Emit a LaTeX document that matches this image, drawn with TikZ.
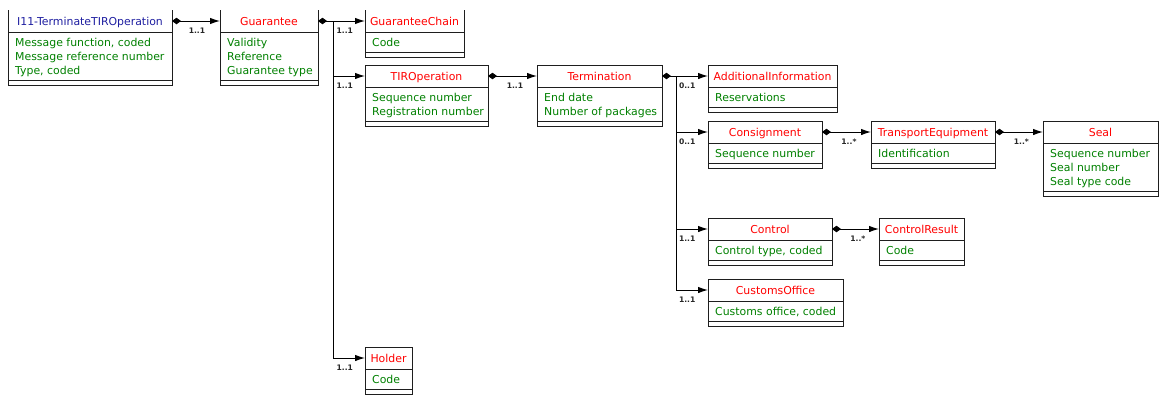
\documentclass[tikz,border=0pt]{standalone}
\usepackage{fontspec}
\setmainfont{DejaVu Sans}
\usetikzlibrary{arrows.meta,calc}
\definecolor{titlered}{RGB}{255,0,0}
\definecolor{titleblue}{RGB}{30,30,160}
\definecolor{attrgreen}{RGB}{0,128,0}
\definecolor{framecol}{RGB}{30,30,30}
\tikzset{
  classframe/.style={draw=framecol, line width=1pt},
  titletext/.style={font=\fontsize{10.9}{13}\selectfont, inner sep=0pt, anchor=base},
  attrtext/.style={font=\fontsize{10.9}{13}\selectfont, text=attrgreen, inner sep=0pt, anchor=base west},
  mult/.style={font=\bfseries\fontsize{7.6}{9}\selectfont, text=black!85, inner sep=0pt, below=6.5pt},
  conn/.style={line width=1pt, draw=black},
  assoc/.style={conn, -{Latex[length=10pt,width=6.5pt]}},
  compassoc/.style={conn, {Diamond[length=9pt,width=6.5pt]}-{Latex[length=10pt,width=6.5pt]}},
  compstart/.style={conn, {Diamond[length=9pt,width=6.5pt]}-},
}
% #1 name, #2 left, #3 top, #4 right, #5 number of attributes,
% #6 title, #7 title colour, #8 attribute list, #9 1 = draw top edge
\newcommand{\umlclass}[9]{%
  \pgfmathsetmacro{\csep}{#3+22}%
  \pgfmathsetmacro{\cattr}{\csep+#5*14+6}%
  \pgfmathsetmacro{\cbot}{\cattr+5}%
  \pgfmathsetmacro{\cwdth}{#4-#2}%
  \pgfmathsetmacro{\chght}{\cbot-#3}%
  \node[inner sep=0pt, outer sep=0pt, minimum width=\cwdth pt, minimum height=\chght pt, anchor=north west] (#1) at (#2,#3) {};
  \coordinate (#1-in) at (#2,#3+11);
  \coordinate (#1-out) at (#4,#3+11);
  \ifnum#9=1
    \draw[classframe] (#1.north west) rectangle (#1.south east);
  \else
    \draw[classframe] (#1.north west) -- (#1.south west) -- (#1.south east) -- (#1.north east);
  \fi
  \draw[classframe] (#2,\csep) -- (#4,\csep);
  \draw[classframe] (#2,\cattr) -- (#4,\cattr);
  \node[titletext, text=#7] (#1-title) at ({(#2+#4)/2},{#3+15}) {#6};
  \foreach \a [count=\i] in {#8} {
    \node[attrtext] (#1-a\i) at (#2+7, {\csep+0.5+14*\i}) {\a};
  }
}
\begin{document}
\begin{tikzpicture}[x=1pt,y=-1pt]
\useasboundingbox (0,0) rectangle (1159,394);
\clip (0,0) rectangle (1159,394);

\umlclass{i11}{8}{10}{172}{3}{I11-TerminateTIROperation}{titleblue}{{Message function, coded},{Message reference number},{Type, coded}}{0}
\umlclass{guar}{220}{10}{318}{3}{Guarantee}{titlered}{{Validity},{Reference},{Guarantee type}}{0}
\umlclass{gchain}{365}{10}{464}{1}{GuaranteeChain}{titlered}{{Code}}{0}
\umlclass{tirop}{365}{65}{488}{2}{TIROperation}{titlered}{{Sequence number},{Registration number}}{1}
\umlclass{term}{537}{65}{662}{2}{Termination}{titlered}{{End date},{Number of packages}}{1}
\umlclass{addinfo}{708}{65}{837}{1}{AdditionalInformation}{titlered}{{Reservations}}{1}
\umlclass{cons}{708}{121}{822}{1}{Consignment}{titlered}{{Sequence number}}{1}
\umlclass{te}{871}{121}{995}{1}{TransportEquipment}{titlered}{{Identification}}{1}
\umlclass{seal}{1043}{121}{1158}{3}{Seal}{titlered}{{Sequence number},{Seal number},{Seal type code}}{1}
\umlclass{control}{708}{218}{832}{1}{Control}{titlered}{{Control type, coded}}{1}
\umlclass{cres}{879}{218}{964}{1}{ControlResult}{titlered}{{Code}}{1}
\umlclass{customs}{708}{279}{843}{1}{CustomsOffice}{titlered}{{Customs office, coded}}{1}
\umlclass{holder}{365}{347}{412}{1}{Holder}{titlered}{{Code}}{1}

% I11 -> Guarantee
\draw[compassoc] (i11-out) -- node[mult, pos=0.52] (m1) {1..1} (guar-in);

% Guarantee trunk
\coordinate (gtrunk) at ($(guar-out)+(15,0)$);
\draw[compstart] (guar-out) -- (gtrunk);
\draw[conn] (gtrunk) -- (gtrunk |- holder-in);
\draw[assoc] (gtrunk) -- node[mult, pos=0.37] (m2) {1..1} (gchain-in);
\draw[assoc] (gtrunk |- tirop-in) -- node[mult, pos=0.37] (m3) {1..1} (tirop-in);
\draw[assoc] (gtrunk |- holder-in) -- node[mult, pos=0.37] (m4) {1..1} (holder-in);

% TIROperation -> Termination
\draw[compassoc] (tirop-out) -- node[mult, pos=0.55] (m5) {1..1} (term-in);

% Termination trunk
\coordinate (ttrunk) at ($(term-out)+(14,0)$);
\draw[compstart] (term-out) -- (ttrunk);
\draw[conn] (ttrunk) -- (ttrunk |- customs-in);
\draw[assoc] (ttrunk) -- node[mult, pos=0.35] (m6) {0..1} (addinfo-in);
\draw[assoc] (ttrunk |- cons-in) -- node[mult, pos=0.35] (m7) {0..1} (cons-in);
\draw[assoc] (ttrunk |- control-in) -- node[mult, pos=0.35] (m8) {1..1} (control-in);
\draw[assoc] (ttrunk |- customs-in) -- node[mult, pos=0.35] (m9) {1..1} (customs-in);

% Consignment -> TransportEquipment -> Seal
\draw[compassoc] (cons-out) -- node[mult, pos=0.55] (m10) {1..*} (te-in);
\draw[compassoc] (te-out) -- node[mult, pos=0.55] (m11) {1..*} (seal-in);

% Control -> ControlResult
\draw[compassoc] (control-out) -- node[mult, pos=0.55] (m12) {1..*} (cres-in);
\end{tikzpicture}
\end{document}
